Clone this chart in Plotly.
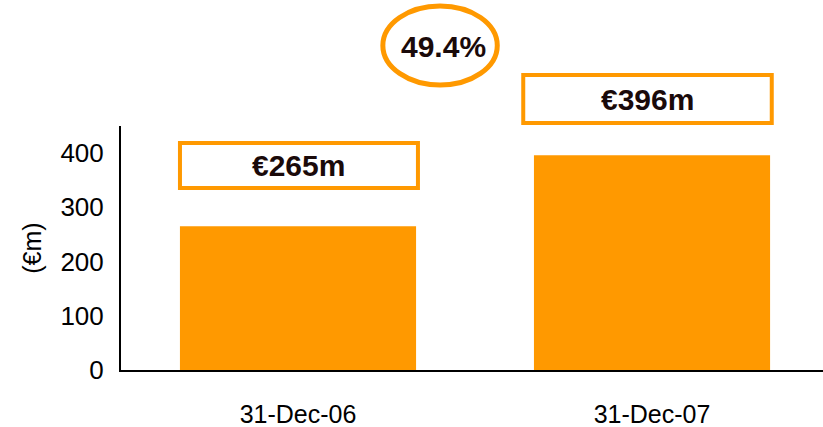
import plotly.graph_objects as go

# data
dates = ["31-Dec-06", "31-Dec-07"]
values = [265, 396]
value_labels = ["€265m", "€396m"]
growth_label = "49.4%"

orange = "#FF9900"
font = "Liberation Sans, Arial, sans-serif"

fig = go.Figure()
fig.add_trace(go.Bar(x=[0, 1], y=values, width=0.667,
                     marker=dict(color=orange, line_width=0),
                     hoverinfo="skip"))

# boxed value labels above each bar, paper coords (x0, x1, y0, y1)
boxes = [(0.084, 0.423, 0.746, 0.930), (0.573, 0.927, 1.012, 1.209)]
for (x0, x1, y0, y1), lab in zip(boxes, value_labels):
    fig.add_shape(type="rect", xref="paper", yref="paper", x0=x0, x1=x1, y0=y0, y1=y1,
                  line=dict(color=orange, width=4), fillcolor="white")
    fig.add_annotation(x=(x0 + x1) / 2, y=(y0 + y1) / 2, xref="paper", yref="paper",
                       xanchor="center", yanchor="middle",
                       text="<b>" + lab + "</b>", showarrow=False,
                       font=dict(family=font, size=30, color="#1a0a0a"))

# growth ellipse
fig.add_shape(type="circle", xref="paper", yref="paper", x0=0.373, x1=0.536, y0=1.168, y1=1.492,
              line=dict(color=orange, width=5))
fig.add_annotation(x=0.460, y=1.324, xref="paper", yref="paper",
                   xanchor="center", yanchor="middle", text="<b>" + growth_label + "</b>",
                   showarrow=False, font=dict(family=font, size=30, color="#1a0a0a"))

fig.update_layout(
    width=823, height=427,
    margin=dict(l=121, r=0, t=126, b=57),
    paper_bgcolor="white", plot_bgcolor="white",
    showlegend=False,
    font=dict(family=font, size=25, color="black"),
)
fig.update_xaxes(range=[-0.5, 1.483], tickvals=[0, 1], ticktext=dates,
                 showline=True, linecolor="black", linewidth=2, automargin=False,
                 showgrid=False, zeroline=False, ticks="", ticklabelstandoff=21,
                 tickfont=dict(size=25))
fig.update_yaxes(range=[0, 450], tickvals=[0, 100, 200, 300, 400],
                 showline=True, linecolor="black", linewidth=2, automargin=False,
                 showgrid=False, zeroline=False, ticks="", ticklabelstandoff=10,
                 tickfont=dict(size=26),
                 title=dict(text="(€m)", font=dict(size=25), standoff=12))

# page body has a default 8px margin, drop it so the figure fills the window
fig.write_html("out.html", config={"displayModeBar": False},
               post_script="document.body.style.margin='0';")
